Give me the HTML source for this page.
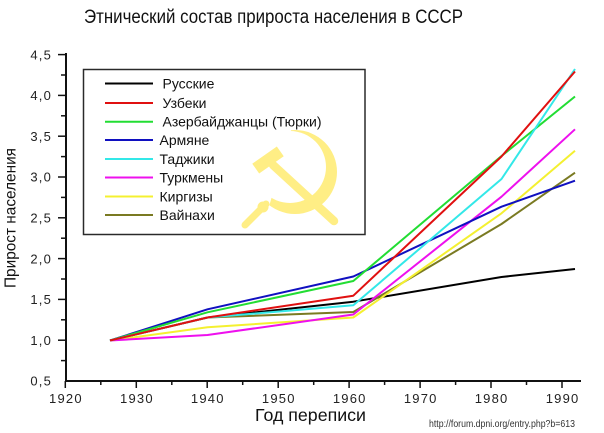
<!DOCTYPE html>
<html><head><meta charset="utf-8"><style>
html,body{margin:0;padding:0;background:#fff;}
svg{display:block;}
text{font-family:"Liberation Sans","DejaVu Sans",sans-serif;}
</style></head><body>
<svg width="604" height="433" viewBox="0 0 604 433" xmlns="http://www.w3.org/2000/svg">
<defs>
  <mask id="sk" maskUnits="userSpaceOnUse" x="0" y="0" width="604" height="433">
    <rect x="0" y="0" width="604" height="433" fill="#fff"/>
    <circle cx="290" cy="167" r="36" fill="#000"/>
    <polygon points="220,100 292,100 292,127 268,210 220,240" fill="#000"/>
  </mask>
</defs>
<rect width="604" height="433" fill="#fff"/>
<text x="273.5" y="23" font-size="19" text-anchor="middle" textLength="379" lengthAdjust="spacingAndGlyphs" fill="#111">Этнический состав прироста населения в СССР</text>

<!-- emblem -->
<g fill="#FFEE85" stroke="none">
  <circle cx="295" cy="172" r="42" mask="url(#sk)"/>
  <line x1="266" y1="204" x2="245" y2="225" stroke="#FFEE85" stroke-width="7" stroke-linecap="round"/>
  <circle cx="263" cy="207" r="5.5"/>
  <line x1="273" y1="165" x2="334" y2="221" stroke="#FFEE85" stroke-width="8.5" stroke-linecap="round"/>
  <g transform="translate(268,160) rotate(-35)"><rect x="-15" y="-6" width="30" height="12"/></g>
</g>

<!-- legend -->
<rect x="83.5" y="69.5" width="281.5" height="165" fill="none" stroke="#2a2a2a" stroke-width="1.5"/>
<g stroke-width="2">
<line x1="105" y1="83.5" x2="153" y2="83.5" stroke="#000"/>
<line x1="105" y1="103" x2="153" y2="103" stroke="#e01010"/>
<line x1="105" y1="121.7" x2="153" y2="121.7" stroke="#22dd33"/>
<line x1="105" y1="140" x2="153" y2="140" stroke="#1010c0"/>
<line x1="105" y1="159" x2="153" y2="159" stroke="#33e8e8"/>
<line x1="105" y1="177.5" x2="153" y2="177.5" stroke="#ee10ee"/>
<line x1="105" y1="196.5" x2="153" y2="196.5" stroke="#f4f030"/>
<line x1="105" y1="215" x2="153" y2="215" stroke="#7a7a22"/>
</g>
<g font-size="14" fill="#111">
<text x="162.5" y="88.5">Русские</text>
<text x="162.5" y="108">Узбеки</text>
<text x="162.5" y="126.5">Азербайджанцы (Тюрки)</text>
<text x="159.5" y="145">Армяне</text>
<text x="159.5" y="164">Таджики</text>
<text x="159.5" y="182.5">Туркмены</text>
<text x="159.5" y="201.5">Киргизы</text>
<text x="159.5" y="220">Вайнахи</text>
</g>

<!-- data -->
<g fill="none" stroke-width="2" stroke-linejoin="round">
<polyline stroke="#000" points="110,340.5 207.5,317.5 353.3,301.7 501.5,277 575,269"/>
<polyline stroke="#7a7a22" points="110,340.5 207.5,317.5 353.3,312 501.5,224 575,172.7"/>
<polyline stroke="#f4f030" points="110,340.5 207.5,327.3 353.3,317.5 501.5,213.3 575,150.7"/>
<polyline stroke="#ee10ee" points="110,340.5 207.5,335 353.3,314.5 501.5,196.7 575,129.3"/>
<polyline stroke="#1010c0" points="110,340.5 207.5,309.3 353.3,276.5 501.5,206.7 575,180.7"/>
<polyline stroke="#22dd33" points="110,340.5 207.5,312.3 353.3,281 501.5,156 575,96.5"/>
<polyline stroke="#33e8e8" points="110,340.5 207.5,317.5 353.3,305.2 501.5,179 575,69"/>
<polyline stroke="#e01010" points="110,340.5 207.5,317.5 353.3,295.7 501.5,156.5 575,71.5"/>
</g>

<!-- axes -->
<g stroke="#111" stroke-width="2">
<line x1="66" y1="53" x2="66" y2="382"/>
<line x1="65" y1="381" x2="581" y2="381"/>
</g>
<g stroke="#111" stroke-width="1.5">
<line x1="58" y1="54.6" x2="66" y2="54.6"/>
<line x1="58" y1="95.4" x2="66" y2="95.4"/>
<line x1="58" y1="136.2" x2="66" y2="136.2"/>
<line x1="58" y1="177" x2="66" y2="177"/>
<line x1="58" y1="217.8" x2="66" y2="217.8"/>
<line x1="58" y1="258.6" x2="66" y2="258.6"/>
<line x1="58" y1="299.4" x2="66" y2="299.4"/>
<line x1="58" y1="340.2" x2="66" y2="340.2"/>
<line x1="61" y1="75" x2="66" y2="75"/>
<line x1="61" y1="115.8" x2="66" y2="115.8"/>
<line x1="61" y1="156.6" x2="66" y2="156.6"/>
<line x1="61" y1="197.4" x2="66" y2="197.4"/>
<line x1="61" y1="238.2" x2="66" y2="238.2"/>
<line x1="61" y1="279" x2="66" y2="279"/>
<line x1="61" y1="319.8" x2="66" y2="319.8"/>
<line x1="61" y1="360.6" x2="66" y2="360.6"/>
<line x1="65.3" y1="381" x2="65.3" y2="388"/>
<line x1="136.3" y1="381" x2="136.3" y2="388"/>
<line x1="207.2" y1="381" x2="207.2" y2="388"/>
<line x1="278.2" y1="381" x2="278.2" y2="388"/>
<line x1="349.1" y1="381" x2="349.1" y2="388"/>
<line x1="420.1" y1="381" x2="420.1" y2="388"/>
<line x1="491" y1="381" x2="491" y2="388"/>
<line x1="562" y1="381" x2="562" y2="388"/>
<line x1="100.8" y1="381" x2="100.8" y2="385"/>
<line x1="171.8" y1="381" x2="171.8" y2="385"/>
<line x1="242.7" y1="381" x2="242.7" y2="385"/>
<line x1="313.7" y1="381" x2="313.7" y2="385"/>
<line x1="384.6" y1="381" x2="384.6" y2="385"/>
<line x1="455.6" y1="381" x2="455.6" y2="385"/>
<line x1="526.5" y1="381" x2="526.5" y2="385"/>
</g>

<g font-size="13" fill="#222" letter-spacing="1.2" text-anchor="end">
<text x="52" y="59.3">4,5</text>
<text x="52" y="100.1">4,0</text>
<text x="52" y="140.9">3,5</text>
<text x="52" y="181.7">3,0</text>
<text x="52" y="222.5">2,5</text>
<text x="52" y="263.3">2,0</text>
<text x="52" y="304.1">1,5</text>
<text x="52" y="344.9">1,0</text>
<text x="52" y="385.7">0,5</text>
</g>
<g font-size="13" fill="#222" letter-spacing="1.2" text-anchor="middle">
<text x="65.9" y="403">1920</text>
<text x="136.9" y="403">1930</text>
<text x="207.8" y="403">1940</text>
<text x="278.8" y="403">1950</text>
<text x="349.7" y="403">1960</text>
<text x="420.7" y="403">1970</text>
<text x="491.6" y="403">1980</text>
<text x="562.6" y="403">1990</text>
</g>

<text x="310.5" y="421" font-size="17.5" text-anchor="middle" textLength="111" lengthAdjust="spacingAndGlyphs" fill="#111">Год переписи</text>
<text transform="translate(15.5,218) rotate(-90)" x="0" y="0" font-size="16" text-anchor="middle" textLength="140" lengthAdjust="spacingAndGlyphs" fill="#111">Прирост населения</text>
<text x="429" y="427" font-size="10.5" textLength="146" lengthAdjust="spacingAndGlyphs" fill="#333">http://forum.dpni.org/entry.php?b=613</text>
</svg>
</body></html>
